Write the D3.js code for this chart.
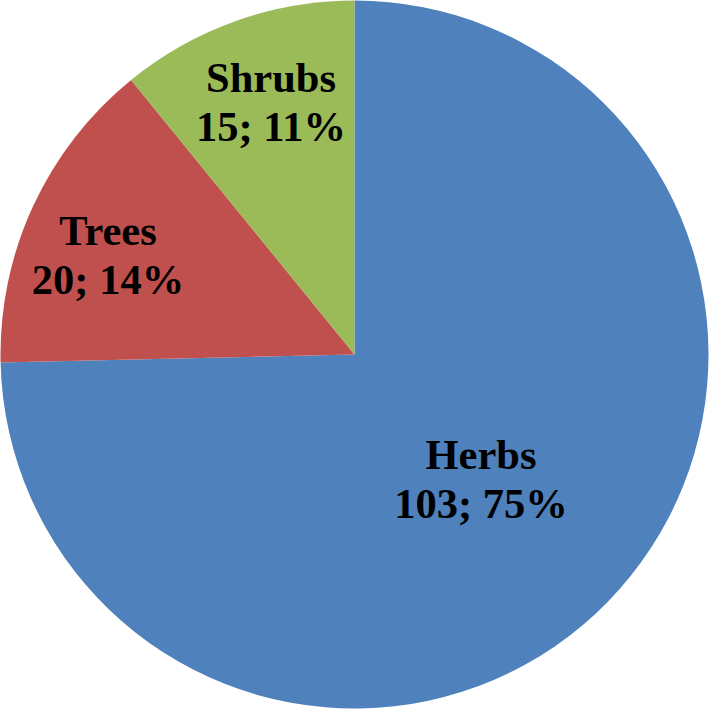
<!DOCTYPE html>
<html><head><meta charset="utf-8">
<script src="https://cdn.jsdelivr.net/npm/d3@7"></script>
<style>html,body{margin:0;padding:0;background:#fff;}</style>
</head><body>
<svg id="chart" width="709" height="709"></svg>
<script>
const categories = ["Herbs", "Trees", "Shrubs"];
const values = [103, 20, 15];
const percentLabels = ["75%", "14%", "11%"];
const colors = ["#4F81BD", "#C0504D", "#9BBB59"];
// label anchor positions (centre x, first baseline y) per slice
const labelPos = [[481, 469], [108, 245], [271, 92]];

const svg = d3.select("#chart");
const cx = 354.5, cy = 354.5, r = 354;
const g = svg.append("g").attr("transform", `translate(${cx},${cy})`);

const pie = d3.pie().sort(null).value(d => d)(values);
const arc = d3.arc().innerRadius(0).outerRadius(r);

g.selectAll("path").data(pie).join("path")
  .attr("d", arc)
  .attr("fill", (d, i) => colors[i]);

const lbl = svg.append("g")
  .attr("font-family", "'Liberation Serif', 'Times New Roman', serif")
  .attr("font-weight", "bold")
  .attr("font-size", 42.5)
  .attr("fill", "#000")
  .attr("text-anchor", "middle");

categories.forEach((c, i) => {
  const [x, y] = labelPos[i];
  lbl.append("text").attr("x", x).attr("y", y).text(c);
  lbl.append("text").attr("x", x).attr("y", y + 49).text(values[i] + "; " + percentLabels[i]);
});
</script>
</body></html>
